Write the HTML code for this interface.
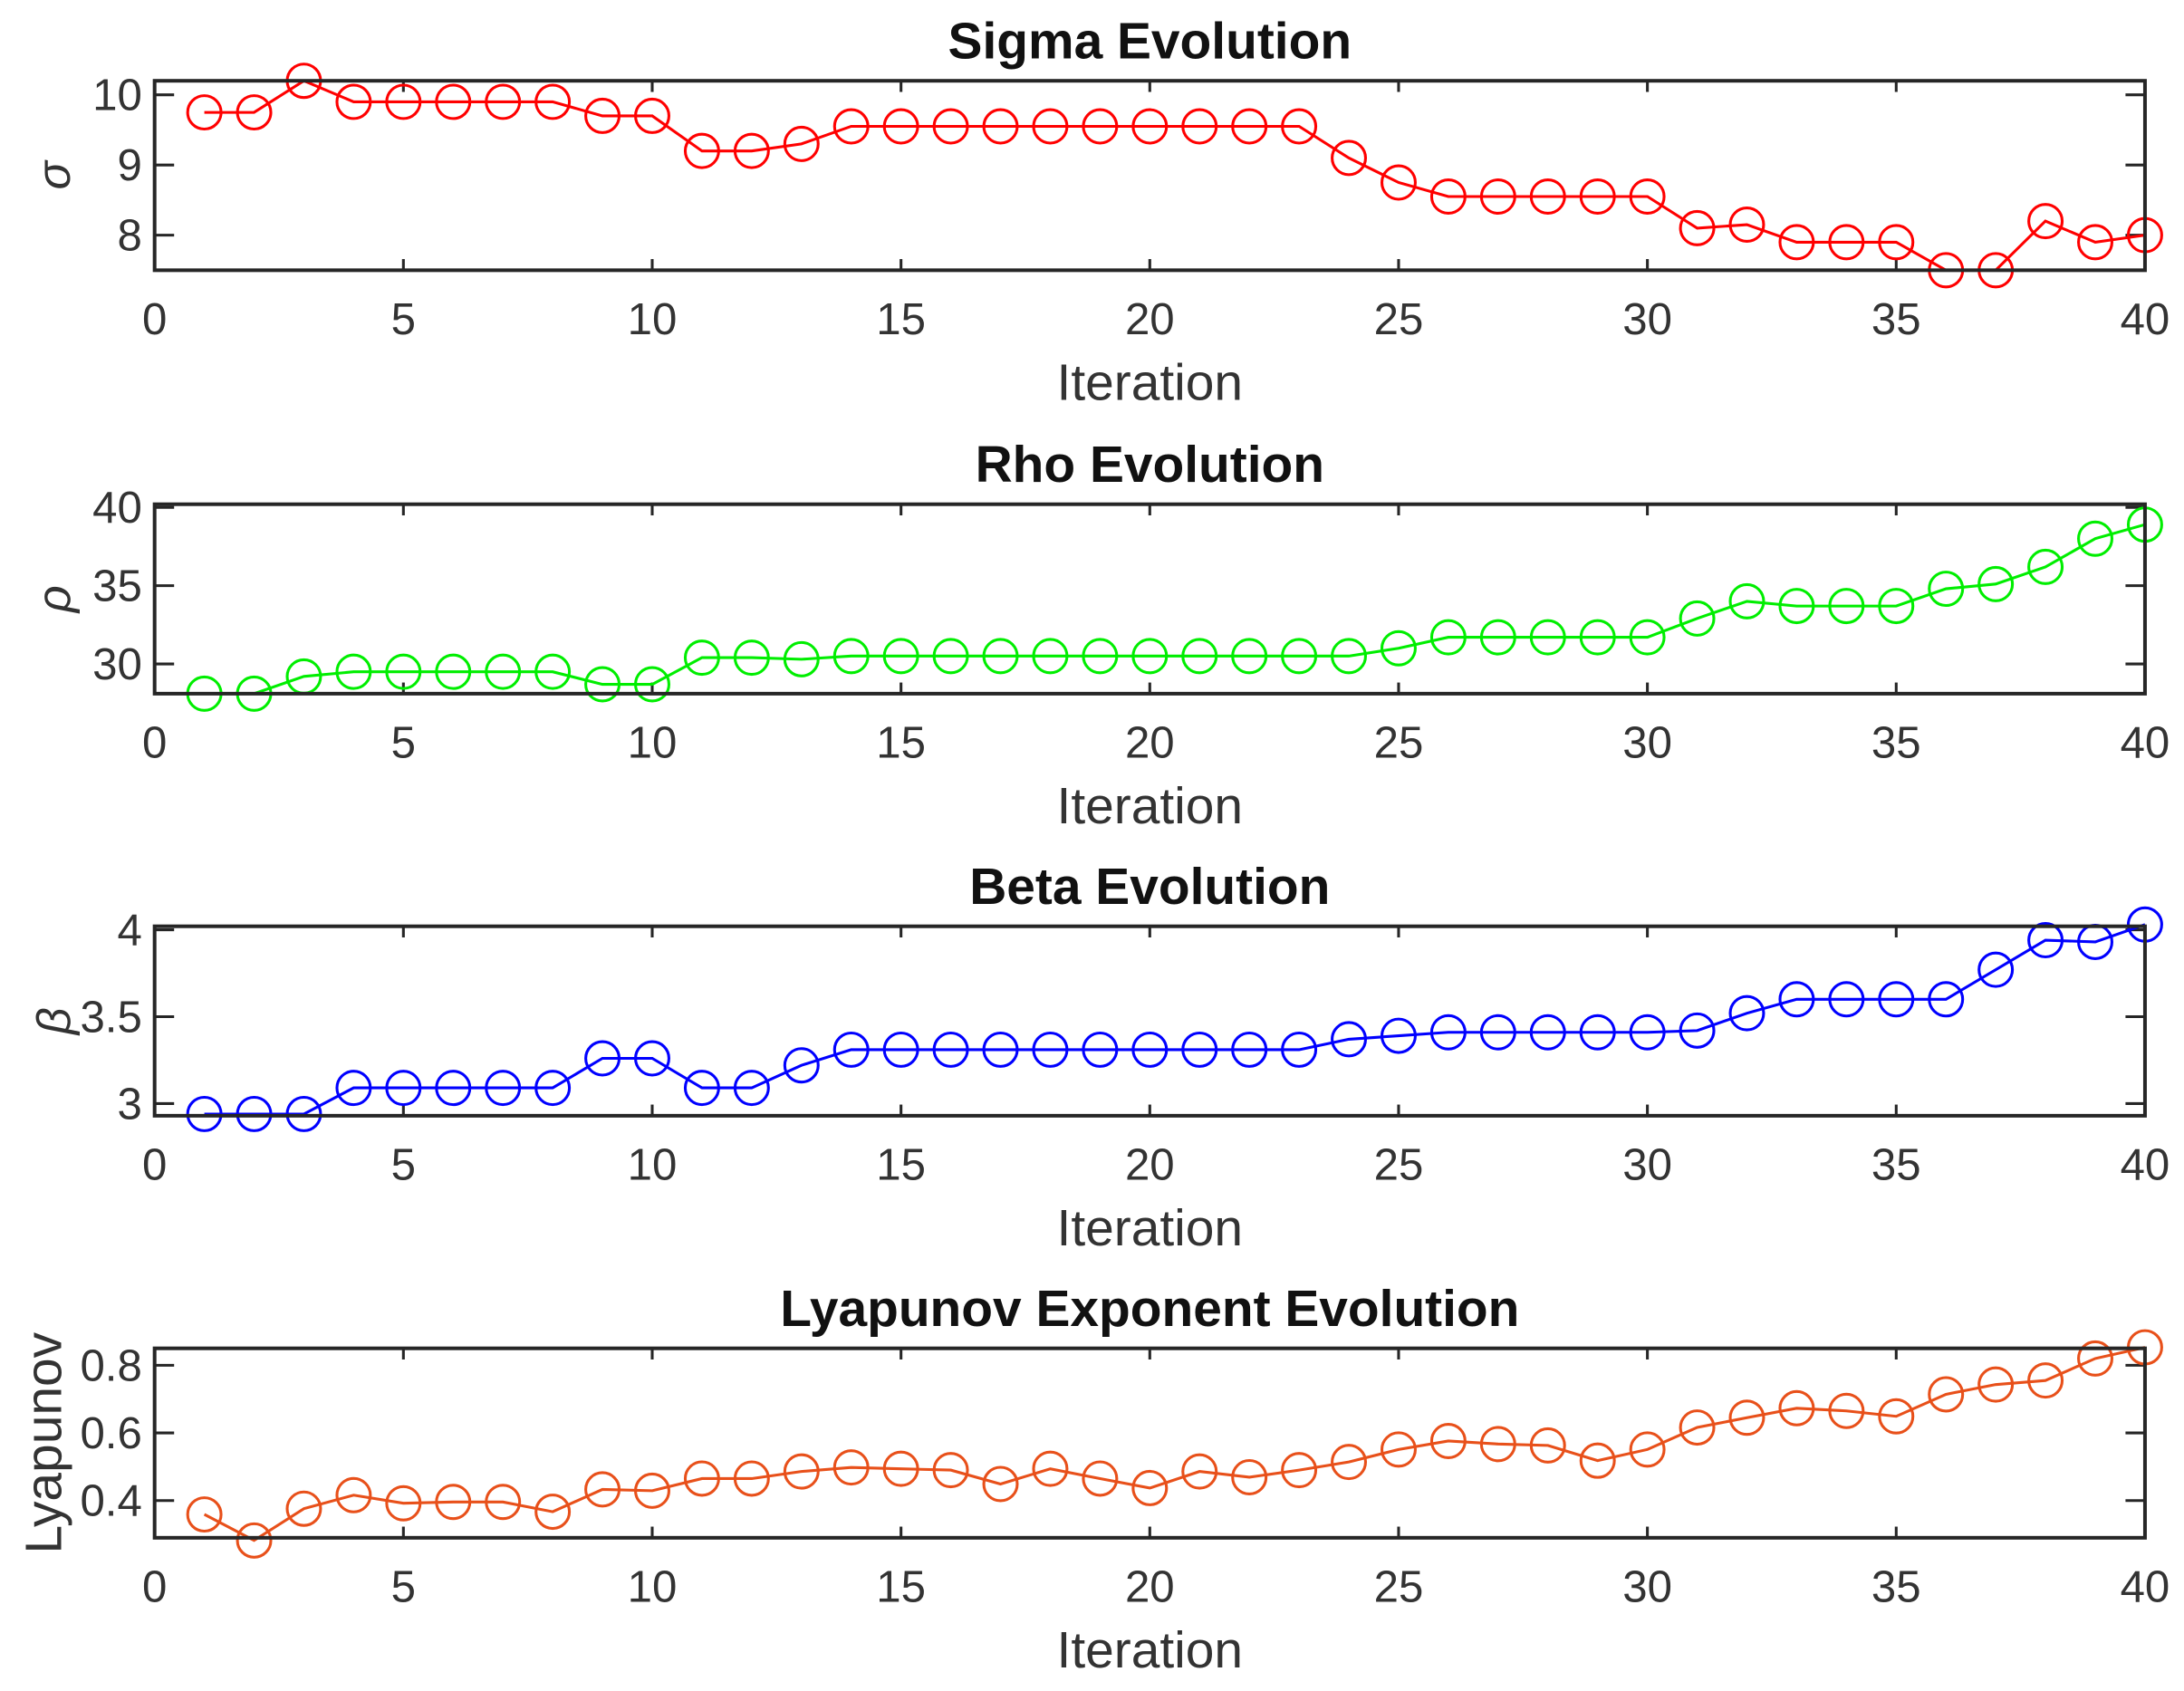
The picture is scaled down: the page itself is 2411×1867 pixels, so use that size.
<!DOCTYPE html>
<html><head><meta charset="utf-8"><style>
html,body{margin:0;padding:0;background:#fff;}
svg{display:block;}
text{font-family:"Liberation Sans",sans-serif;}
</style></head><body>
<svg id="fig" width="2411" height="1867" viewBox="0 0 1568 1214" preserveAspectRatio="none" xmlns="http://www.w3.org/2000/svg"></svg>
<script>
const iterations = Array.from({length:40},(_,i)=>i+1);
const sigmaValues = [9.75,9.75,10.2,9.9,9.9,9.9,9.9,9.9,9.7,9.7,9.2,9.2,9.3,9.55,9.55,9.55,9.55,9.55,9.55,9.55,9.55,9.55,9.55,9.1,8.75,8.55,8.55,8.55,8.55,8.55,8.1,8.15,7.9,7.9,7.9,7.5,7.5,8.2,7.9,8.0];
const rhoValues = [28.1,28.1,29.2,29.5,29.5,29.5,29.5,29.5,28.7,28.7,30.4,30.4,30.3,30.5,30.5,30.5,30.5,30.5,30.5,30.5,30.5,30.5,30.5,30.5,31.0,31.7,31.7,31.7,31.7,31.7,32.9,34.0,33.7,33.7,33.7,34.8,35.1,36.2,38.0,38.9];
const betaValues = [2.94,2.94,2.94,3.09,3.09,3.09,3.09,3.09,3.26,3.26,3.09,3.09,3.22,3.31,3.31,3.31,3.31,3.31,3.31,3.31,3.31,3.31,3.31,3.37,3.39,3.41,3.41,3.41,3.41,3.41,3.42,3.52,3.6,3.6,3.6,3.6,3.77,3.94,3.93,4.03];
const lyapValues = [0.359,0.282,0.376,0.416,0.392,0.396,0.396,0.367,0.433,0.429,0.465,0.465,0.486,0.498,0.494,0.49,0.449,0.494,0.465,0.437,0.486,0.469,0.49,0.514,0.551,0.576,0.567,0.563,0.518,0.551,0.616,0.645,0.673,0.665,0.649,0.714,0.743,0.755,0.82,0.853];
const xTicks = [0,5,10,15,20,25,30,35,40];
const sigmaTicks = [8,9,10];
const rhoTicks = [30,35,40];
const betaTicks = [3,3.5,4];
const lyapTicks = [0.4,0.6,0.8];
const sigmaLim = [7.5,10.2];
const rhoLim = [28.1,40.2];
const betaLim = [2.93,4.02];
const lyapLim = [0.29,0.85];

const NS="http://www.w3.org/2000/svg";
const svg=document.getElementById('fig');
function mk(tag,attrs,parent){const e=document.createElementNS(NS,tag);for(const k in attrs)e.setAttribute(k,attrs[k]);(parent||svg).appendChild(e);return e;}

const panels=[
 {key:'sigma',title:'Sigma Evolution',ylab:'σ',yital:true,vals:sigmaValues,ticks:sigmaTicks,lim:sigmaLim,color:'#ff0000',top:58},
 {key:'rho',title:'Rho Evolution',ylab:'ρ',yital:true,vals:rhoValues,ticks:rhoTicks,lim:rhoLim,color:'#00ee00',top:362},
 {key:'beta',title:'Beta Evolution',ylab:'β',yital:true,vals:betaValues,ticks:betaTicks,lim:betaLim,color:'#0000ff',top:665},
 {key:'lyapunov',title:'Lyapunov Exponent Evolution',ylab:'Lyapunov',yital:false,vals:lyapValues,ticks:lyapTicks,lim:lyapLim,color:'#e8501a',top:968}
];
const L=111,R=1540,H=136;
panels.forEach(p=>{
 const g=mk('g',{});
 
 
 const T=p.top,B=T+H;
 const xs=v=>L+(v-0)/(40-0)*(R-L);
 const ys=v=>B-(v-p.lim[0])/(p.lim[1]-p.lim[0])*H;
 const t=mk('text',{x:(L+R)/2,y:T-16,'text-anchor':'middle','font-size':37,'font-weight':'bold',fill:'#111'},g);
 t.textContent=p.title;
 
 
 xTicks.forEach(v=>{
  const x=xs(v);
  mk('line',{x1:x,x2:x,y1:B,y2:B-8,stroke:'#262626','stroke-width':2},g);
  mk('line',{x1:x,x2:x,y1:T,y2:T+8,stroke:'#262626','stroke-width':2},g);
  const tl=mk('text',{x:x,y:B+46,'text-anchor':'middle','font-size':32,fill:'#333'},g);
  tl.textContent=String(v);
  
  
 });
 p.ticks.forEach(v=>{
  const y=ys(v);
  mk('line',{x1:L,x2:L+14,y1:y,y2:y,stroke:'#262626','stroke-width':2},g);
  mk('line',{x1:R,x2:R-14,y1:y,y2:y,stroke:'#262626','stroke-width':2},g);
  const tl=mk('text',{x:L-9,y:y+11,'text-anchor':'end','font-size':32,fill:'#333'},g);
  tl.textContent=String(v);
  
  
 });
 const pts=p.vals.map((v,i)=>xs(iterations[i]).toFixed(1)+','+ys(v).toFixed(1)).join(' ');
 const pl=mk('polyline',{points:pts,fill:'none',stroke:p.color,'stroke-width':2},g);
 
 
 p.vals.forEach((v,i)=>{
  const c=mk('circle',{cx:xs(iterations[i]),cy:ys(v),r:12,fill:'none',stroke:p.color,'stroke-width':2},g);
  
  
 });
 const bx=mk('rect',{x:L,y:T,width:R-L,height:H,fill:'none',stroke:'#262626','stroke-width':2.6},g);
 
 
 const xl=mk('text',{x:(L+R)/2,y:B+93,'text-anchor':'middle','font-size':37,fill:'#333'},g);
 xl.textContent='Iteration';
 
 
 const ylx=p.yital?50:44, yly=(T+B)/2;
 const yl=mk('text',{x:ylx,y:yly,'text-anchor':'middle','font-size':p.yital?34:37,fill:'#333',transform:`rotate(-90 ${ylx} ${yly})`},g);
 if(p.yital){yl.setAttribute('font-style','italic');yl.setAttribute('font-family','"Liberation Serif",serif');}
 yl.textContent=p.ylab;
 
 
});
</script>
</body></html>
